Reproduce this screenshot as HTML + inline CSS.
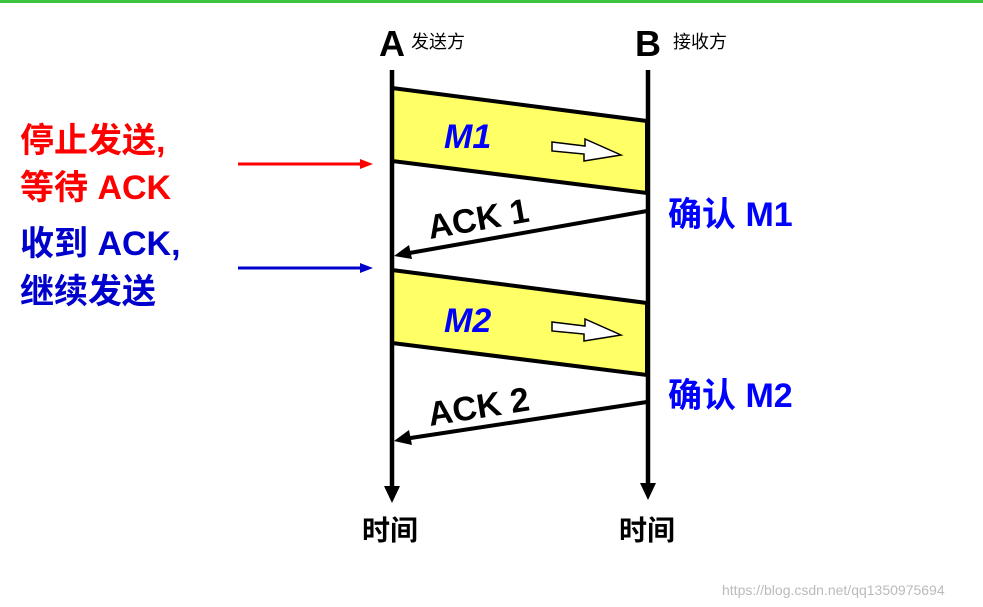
<!DOCTYPE html>
<html><head><meta charset="utf-8"><style>
html,body{margin:0;padding:0;background:#fff;}
svg{display:block;}
text{font-family:"Liberation Sans","Noto Sans CJK SC",sans-serif;}
</style></head><body>
<svg width="983" height="607" viewBox="0 0 983 607" xmlns="http://www.w3.org/2000/svg">
<rect x="0" y="0" width="983" height="3" fill="#3ec43e"/>
<defs>
<marker id="ah" markerWidth="10" markerHeight="10" refX="9" refY="5" orient="auto" markerUnits="userSpaceOnUse"><path d="M0,0 L10,5 L0,10 Z" fill="#000"/></marker>
</defs>
<!-- headers -->
<text x="379" y="56" font-size="36" font-weight="bold" fill="#000">A</text>
<text x="411" y="48" font-size="18" fill="#000">发送方</text>
<text x="635" y="56" font-size="36" font-weight="bold" fill="#000">B</text>
<text x="673" y="48" font-size="18" fill="#000">接收方</text>
<!-- M1 -->
<polygon points="392,88 647,121 647,193 392,161" fill="#ffff66" stroke="#000" stroke-width="4"/>
<text x="444" y="148" font-size="34" font-weight="bold" font-style="italic" fill="#0000ff">M1</text>
<polygon points="552,142 585,146 585,139 621,155 584,161 584,154 552,151" fill="#fff" stroke="#000" stroke-width="1.5"/>
<!-- M2 -->
<polygon points="392,270 647,303 647,375 392,343" fill="#ffff66" stroke="#000" stroke-width="4"/>
<text x="444" y="332" font-size="34" font-weight="bold" font-style="italic" fill="#0000ff">M2</text>
<polygon points="552,322 585,326 585,319 621,335 584,341 584,334 552,331" fill="#fff" stroke="#000" stroke-width="1.5"/>
<!-- time lines -->
<line x1="392" y1="70" x2="392" y2="488" stroke="#000" stroke-width="4.5"/>
<polygon points="384,486 400,486 392,503" fill="#000"/>
<line x1="648" y1="70" x2="648" y2="485" stroke="#000" stroke-width="4.5"/>
<polygon points="640,483 656,483 648,500" fill="#000"/>
<!-- ACK lines -->
<line x1="647" y1="211" x2="404" y2="254" stroke="#000" stroke-width="4"/>
<polygon points="394,256 409,245 412,259" fill="#000"/>
<text x="0" y="0" font-size="34" font-weight="bold" fill="#000" transform="translate(430,239) rotate(-10)">ACK 1</text>
<line x1="647" y1="402" x2="404" y2="439" stroke="#000" stroke-width="4"/>
<polygon points="394,441 409,430 412,445" fill="#000"/>
<text x="0" y="0" font-size="34" font-weight="bold" fill="#000" transform="translate(430,426) rotate(-9)">ACK 2</text>
<!-- left labels -->
<text x="20" y="152" font-size="34" font-weight="bold" fill="#ff0000">停止发送,</text>
<text x="20" y="199" font-size="34" font-weight="bold" fill="#ff0000">等待 ACK</text>
<line x1="238" y1="164" x2="362" y2="164" stroke="#ff0000" stroke-width="3"/>
<polygon points="360,159 373,164 360,169" fill="#ff0000"/>
<text x="20" y="255" font-size="34" font-weight="bold" fill="#0000cc">收到 ACK,</text>
<text x="20" y="303" font-size="34" font-weight="bold" fill="#0000cc">继续发送</text>
<line x1="238" y1="268" x2="362" y2="268" stroke="#0000cc" stroke-width="3"/>
<polygon points="360,263 373,268 360,273" fill="#0000cc"/>
<!-- right labels -->
<text x="668" y="226" font-size="34" font-weight="bold" fill="#0000ff">确认 M1</text>
<text x="668" y="407" font-size="34" font-weight="bold" fill="#0000ff">确认 M2</text>
<!-- time -->
<text x="362" y="540" font-size="28" font-weight="bold" fill="#000">时间</text>
<text x="619" y="540" font-size="28" font-weight="bold" fill="#000">时间</text>
<text x="722" y="595" font-size="14" fill="#bbbbbb">https://blog.csdn.net/qq1350975694</text>
</svg>
</body></html>
